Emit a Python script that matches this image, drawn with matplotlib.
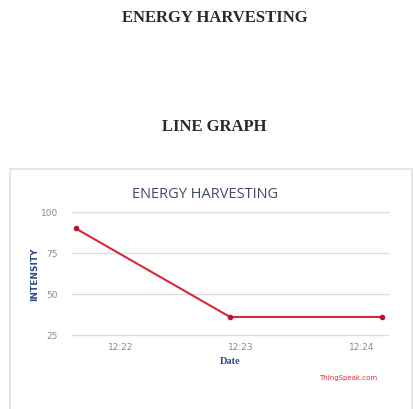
import matplotlib.pyplot as plt
from matplotlib.patches import Rectangle

# minutes after 12:00
times = [21.63, 22.91, 24.17]
intensity = [90, 36, 36]
x_ticks = [22, 23, 24]
x_tick_labels = ["12:22", "12:23", "12:24"]
y_ticks = [25, 50, 75, 100]

fig = plt.figure(figsize=(4.13, 4.10), dpi=100)

# page headings
fig.text(0.52, 0.955, "ENERGY HARVESTING", ha="center", va="center",
         family="Liberation Serif", weight="bold", fontsize=12, color="#2a2a2a")
fig.text(0.518, 0.69, "LINE GRAPH", ha="center", va="center",
         family="Liberation Serif", weight="bold", fontsize=12, color="#2a2a2a")

# chart frame
fig.patches.append(Rectangle((10 / 413, -0.01), 402 / 413, 1 - 170 / 410 + 0.01,
                             transform=fig.transFigure, fill=False,
                             edgecolor="#e2e2e2", linewidth=1.2))

ax = fig.add_axes([72 / 413, 1 - 336 / 410, 316 / 413, 123 / 410])
ax.plot(times, intensity, color="#d42a3a", linewidth=1.5, marker="o",
        markersize=3, markerfacecolor="#b8142a", markeredgecolor="#b8142a")

ax.set_xlim(21.60, 24.22)
ax.set_ylim(25, 100)
ax.set_xticks(x_ticks)
ax.set_xticklabels(x_tick_labels)
ax.set_yticks(y_ticks)
ax.grid(axis="y", color="#dddddd", linewidth=1)
for gl in ax.get_ygridlines():
    gl.set_clip_on(False)
ax.set_axisbelow(True)
for s in ax.spines.values():
    s.set_visible(False)
ax.tick_params(length=0, labelsize=6.5, labelcolor="#8a8a8a", pad=5)
ax.tick_params(axis="y", pad=10)

fig.text(205 / 413, 1 - 195 / 410, "ENERGY HARVESTING", ha="center", va="center",
         family="Open Sans", fontsize=10.5, color="#3e4a68")
ax.set_xlabel("Date", family="Liberation Serif", weight="bold", fontsize=7.5,
              color="#2e4c8a", labelpad=4)
ax.set_ylabel("INTENSITY", family="DejaVu Sans", weight="bold", fontsize=6.5,
              color="#2e4c8a", labelpad=1)

fig.text(348 / 413, 1 - 378 / 410, "ThingSpeak.com", ha="center", va="center",
         fontsize=5, color="#e0303a")

fig.savefig("out.png", dpi=100)
